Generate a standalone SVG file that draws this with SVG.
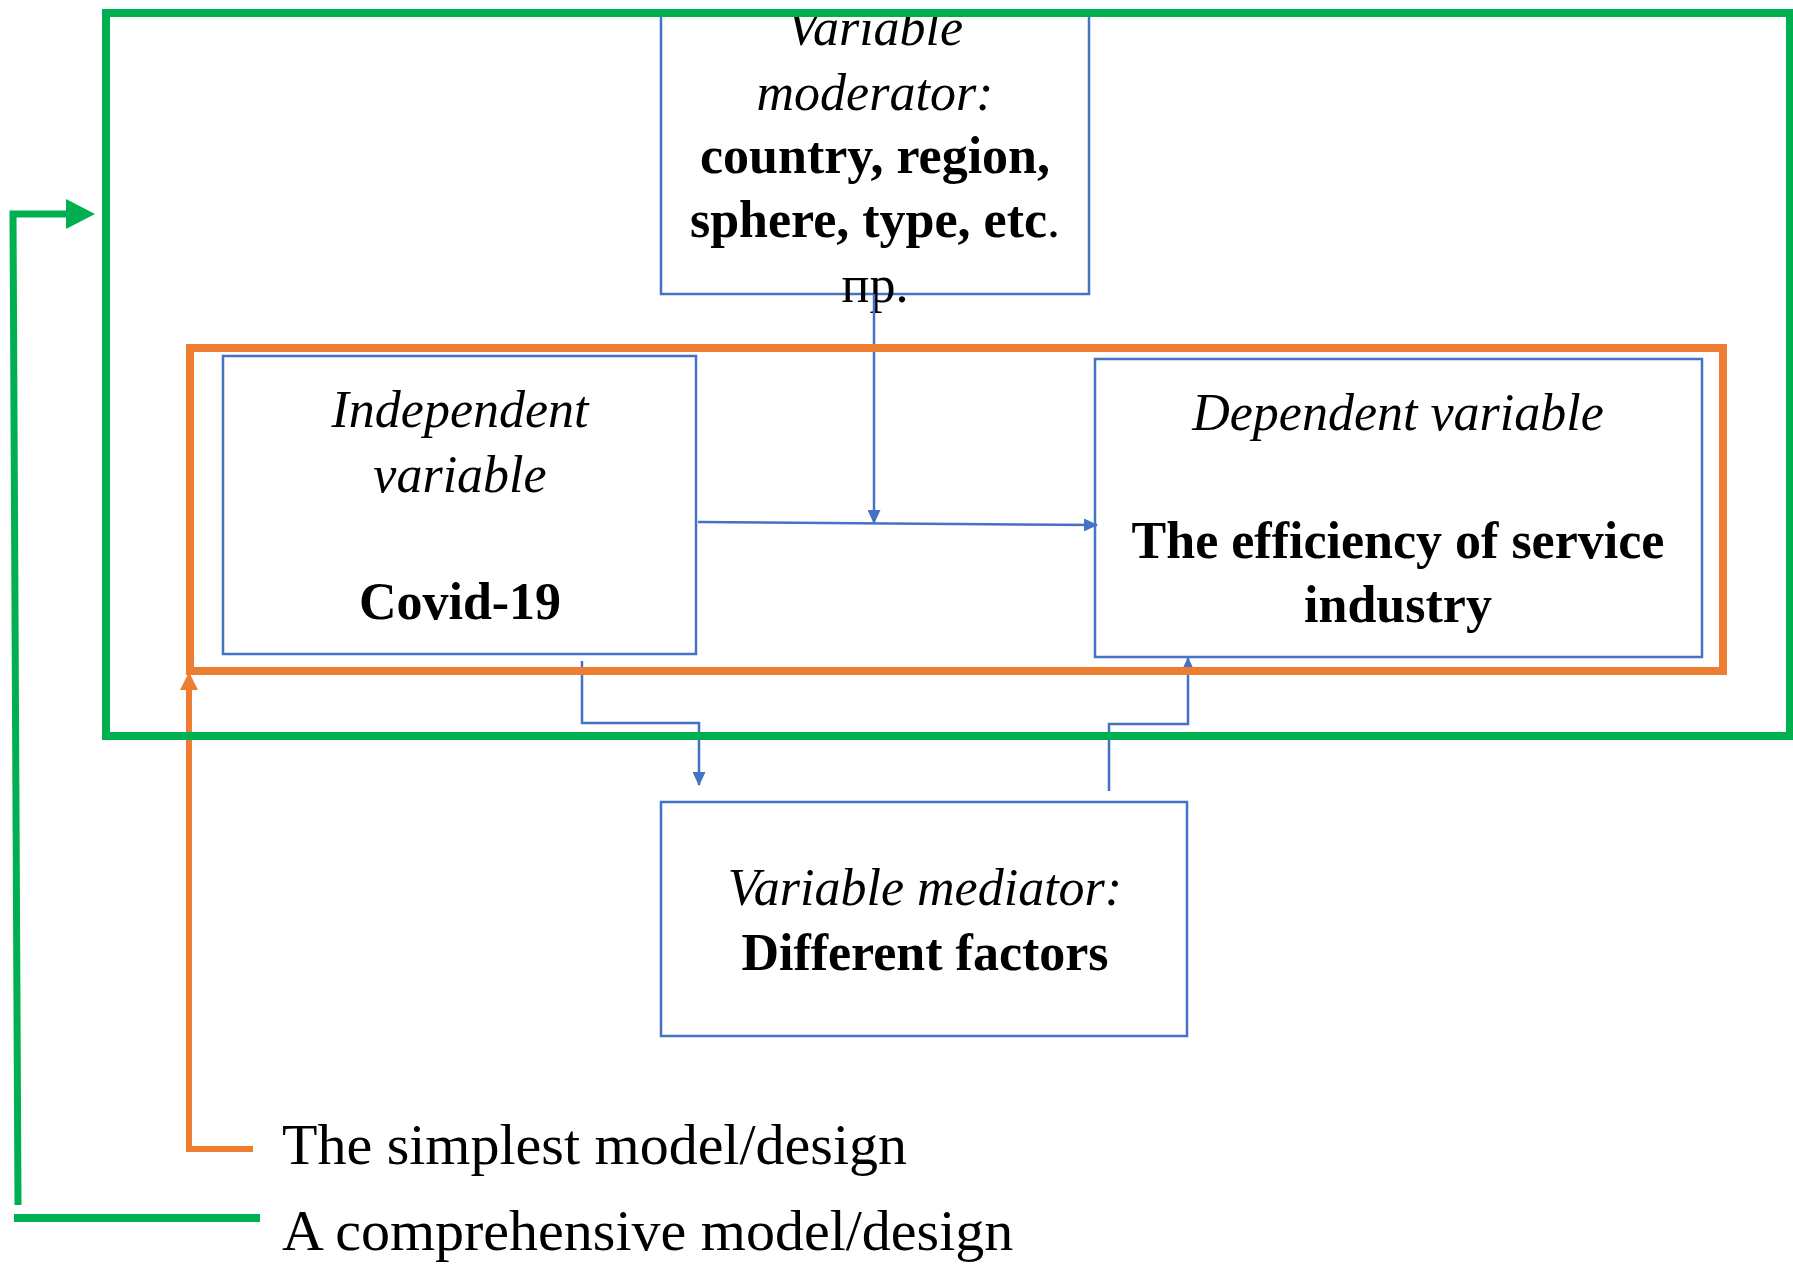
<svg xmlns="http://www.w3.org/2000/svg" width="1793" height="1269" viewBox="0 0 1793 1269">
<style>
.box{fill:#fff;stroke:#4472C4;stroke-width:2.5}
.conn{fill:none;stroke:#4472C4;stroke-width:2.5}
.t{font-family:"Liberation Serif","Times New Roman",serif;font-size:52px;fill:#000;text-anchor:middle}
.i{font-style:italic}
.b{font-weight:bold}
.leg{font-family:"Liberation Serif","Times New Roman",serif;font-size:58px;fill:#000}
</style>
<defs>
<marker id="ab" markerWidth="14" markerHeight="13" refX="13" refY="6.5" orient="auto" markerUnits="userSpaceOnUse" viewBox="0 0 14 13">
<path d="M0,0 L14,6.5 L0,13 z" fill="#4472C4"/>
</marker>
<clipPath id="modclip"><rect x="600" y="14" width="560" height="320"/></clipPath>
</defs>
<rect width="1793" height="1269" fill="#fff"/>

<g id="moderator">
<rect class="box" x="661" y="14" width="428" height="280"/>
<g clip-path="url(#modclip)">
<text class="t i" x="875" y="45">Variable</text>
<text class="t i" x="875" y="110">moderator:</text>
<text class="t b" x="875" y="173">country, region,</text>
<text class="t" x="875" y="237"><tspan font-weight="bold">sphere, type, etc</tspan>.</text>
<text class="t" x="875" y="302">пр.</text>
</g>
</g>

<g id="independent">
<rect class="box" x="223" y="356" width="473" height="298"/>
<text class="t i" x="460" y="427">Independent</text>
<text class="t i" x="460" y="492">variable</text>
<text class="t b" x="460" y="619">Covid-19</text>
</g>

<g id="dependent">
<rect class="box" x="1095" y="359" width="607" height="298"/>
<text class="t i" x="1398" y="430">Dependent variable</text>
<text class="t b" x="1398" y="558">The efficiency of service</text>
<text class="t b" x="1398" y="622">industry</text>
</g>

<g id="mediator">
<rect class="box" x="661" y="802" width="526" height="234"/>
<text class="t i" x="925" y="905">Variable mediator:</text>
<text class="t b" x="925" y="970">Different factors</text>
</g>

<g id="connectors">
<path class="conn" d="M698,522 L1097,525" marker-end="url(#ab)"/>
<path class="conn" d="M874,294 L874,523" marker-end="url(#ab)"/>
<path class="conn" d="M582,661 L582,723 L699,723 L699,785" marker-end="url(#ab)"/>
<path class="conn" d="M1109,791 L1109,724 L1188,724 L1188,658" marker-end="url(#ab)"/>
</g>

<g id="simplest-frame">
<rect x="190" y="348" width="1533" height="323" fill="none" stroke="#ED7D31" stroke-width="8"/>
<path d="M253,1149 L189,1149 L189,688" fill="none" stroke="#ED7D31" stroke-width="6"/>
<path d="M180,690 L189,672 L198,690 z" fill="#ED7D31"/>
</g>

<g id="comprehensive-frame">
<rect x="106" y="13" width="1684" height="723" fill="none" stroke="#00B050" stroke-width="8"/>
<path d="M260,1218 L14,1218" fill="none" stroke="#00B050" stroke-width="8"/>
<path d="M18,1205 L13,214 L70,214" fill="none" stroke="#00B050" stroke-width="7"/>
<path d="M66,199 L95,214 L66,229 z" fill="#00B050"/>
</g>

<g id="legend">
<text class="leg" x="282" y="1164">The simplest model/design</text>
<text class="leg" x="282" y="1250">A comprehensive model/design</text>
</g>
</svg>
